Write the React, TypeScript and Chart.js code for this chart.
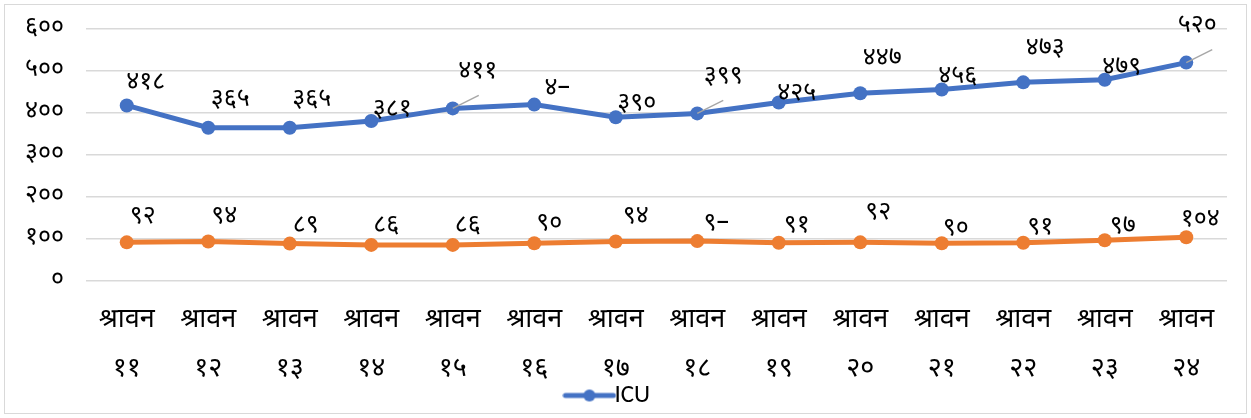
import React, { useEffect, useRef } from "react";
import { Chart, registerables } from "chart.js";

Chart.register(...registerables);

const months = ["श्रावन", "श्रावन", "श्रावन", "श्रावन", "श्रावन", "श्रावन", "श्रावन", "श्रावन", "श्रावन", "श्रावन", "श्रावन", "श्रावन", "श्रावन", "श्रावन"];
const days = ["११", "१२", "१३", "१४", "१५", "१६", "१७", "१८", "१९", "२०", "२१", "२२", "२३", "२४"];
const icuValues = [418, 365, 365, 381, 411, 420, 390, 399, 425, 447, 456, 473, 479, 520];
const icuLabels = ["४१८", "३६५", "३६५", "३८१", "४११", "४–", "३९०", "३९९", "४२५", "४४७", "४५६", "४७३", "४७९", "५२०"];
const ventValues = [92, 94, 89, 86, 86, 90, 94, 95, 91, 92, 90, 91, 97, 104];
const ventLabels = ["९२", "९४", "८९", "८६", "८६", "९०", "९४", "९–", "९१", "९२", "९०", "९१", "९७", "१०४"];
const yTicks = [0, 100, 200, 300, 400, 500, 600];

// label placement (offset from point, pixels) and leader lines
const icuLabelDx = [19, 22, 22, 21, 25, 23, 21, 26, 18, 22, 16, 22, 17, 11];
const icuLabelDy = [-21, -26, -26, -10, -35, -14, -12, -35, -7, -33, -11, -32, -10, -35];
const icuLeader = [false, false, false, false, true, false, false, true, false, false, false, false, false, true];
const ventLabelDx = [16, 16, 16, 15, 15, 15, 20, 19, 18, 18, 14, 17, 18, 14];
const ventLabelDy = [-24, -23, -16, -18, -18, -18, -23, -16, -15, -28, -13, -13, -12, -16];

const NEP = ["०", "१", "२", "३", "४", "५", "६", "७", "८", "९"];
const toNep = (n: number) => String(n).split("").map((c) => NEP[+c] ?? c).join("");

const BLUE = "#4472C4";
const ORANGE = "#ED7D31";
const FONT = "'Noto Sans Devanagari', 'Nirmala UI', 'Noto Sans', 'DejaVu Sans', sans-serif";

function makeLegendIcon(color: string) {
  const c = document.createElement("canvas");
  c.width = 54;
  c.height = 14;
  const g = c.getContext("2d")!;
  g.strokeStyle = color;
  g.lineWidth = 5;
  g.lineCap = "round";
  g.beginPath();
  g.moveTo(3, 7);
  g.lineTo(51, 7);
  g.stroke();
  g.fillStyle = color;
  g.beginPath();
  g.arc(27, 7, 6, 0, Math.PI * 2);
  g.fill();
  return c;
}

const labelPlugin = {
  id: "valueLabels",
  afterDatasetsDraw(chart: any) {
    const ctx = chart.ctx;
    ctx.save();
    ctx.font = `25px ${FONT}`;
    ctx.fillStyle = "#000";
    ctx.textAlign = "center";
    ctx.textBaseline = "middle";
    const sets = [
      { idx: 0, labels: icuLabels, dx: icuLabelDx, dy: icuLabelDy, leader: icuLeader },
      { idx: 1, labels: ventLabels, dx: ventLabelDx, dy: ventLabelDy, leader: [] as boolean[] },
    ];
    sets.forEach((s) => {
      const meta = chart.getDatasetMeta(s.idx);
      meta.data.forEach((pt: any, i: number) => {
        const x = pt.x + s.dx[i];
        const y = pt.y + s.dy[i];
        if (s.leader[i]) {
          ctx.strokeStyle = "#A6A6A6";
          ctx.lineWidth = 1.5;
          ctx.beginPath();
          ctx.moveTo(pt.x, pt.y);
          ctx.lineTo(pt.x + 26, pt.y - 13);
          ctx.stroke();
        }
        ctx.fillText(s.labels[i], x, y);
      });
    });
    ctx.restore();
  },
};

export default function App() {
  const ref = useRef<HTMLCanvasElement>(null);
  useEffect(() => {
    const icon = makeLegendIcon(BLUE);
    const chart = new Chart(ref.current!, {
      type: "line",
      data: {
        labels: months.map((m, i) => [m, days[i]]),
        datasets: [
          {
            label: "ICU",
            data: icuValues,
            borderColor: BLUE,
            backgroundColor: BLUE,
            borderWidth: 5,
            pointRadius: 7,
            pointBackgroundColor: BLUE,
            pointBorderWidth: 0,
            tension: 0,
          },
          {
            label: "Ventilator",
            data: ventValues,
            borderColor: ORANGE,
            backgroundColor: ORANGE,
            borderWidth: 5,
            pointRadius: 7,
            pointBackgroundColor: ORANGE,
            pointBorderWidth: 0,
            tension: 0,
          },
        ],
      },
      options: {
        animation: false,
        responsive: false,
        layout: { padding: { left: 0, right: 24, top: 29, bottom: 0 } },
        plugins: {
          tooltip: { enabled: false },
          legend: {
            position: "bottom",
            labels: {
              usePointStyle: true,
              padding: 2,
              font: { size: 25, family: "Calibri, 'Liberation Sans Narrow', 'Liberation Sans', sans-serif" },
              color: "#000",
              generateLabels: () => [
                {
                  text: "ICU",
                  pointStyle: icon,
                  fillStyle: BLUE,
                  strokeStyle: BLUE,
                  lineWidth: 0,
                  datasetIndex: 0,
                  hidden: false,
                  fontColor: "#000",
                },
              ],
            },
          },
        },
        scales: {
          x: {
            offset: true,
            grid: { display: false },
            border: { display: false },
            ticks: {
              color: "#000",
              font: { size: 27, family: FONT, lineHeight: 1.8 },
              padding: 9,
              maxRotation: 0,
              autoSkip: false,
            },
            afterFit: (s: any) => {
              s.height = 100;
              s.paddingLeft = 0;
              s.paddingRight = 0;
            },
          },
          y: {
            min: 0,
            max: 600,
            afterBuildTicks: (s: any) => {
              s.ticks = yTicks.map((v) => ({ value: v }));
            },
            grid: { color: "#D9D9D9", lineWidth: 1.5, drawTicks: false },
            border: { display: false },
            ticks: {
              color: "#000",
              font: { size: 25, family: FONT },
              padding: 22,
              callback: (v: any) => toNep(Number(v)),
            },
            afterFit: (s: any) => {
              s.width = 86;
              s.paddingTop = 0;
              s.paddingBottom = 0;
            },
          },
        },
      },
      plugins: [labelPlugin],
    } as any);
    return () => chart.destroy();
  }, []);
  return (
    <div style={{ position: "fixed", left: 0, top: 0, width: 1251, height: 418, background: "#fff" }}>
      <div
        style={{
          position: "absolute",
          left: 4,
          top: 4,
          width: 1241,
          height: 408,
          border: "1.5px solid #D9D9D9",
        }}
      />
      <canvas ref={ref} width={1251} height={418} style={{ position: "absolute", left: 0, top: 0 }} />
    </div>
  );
}
